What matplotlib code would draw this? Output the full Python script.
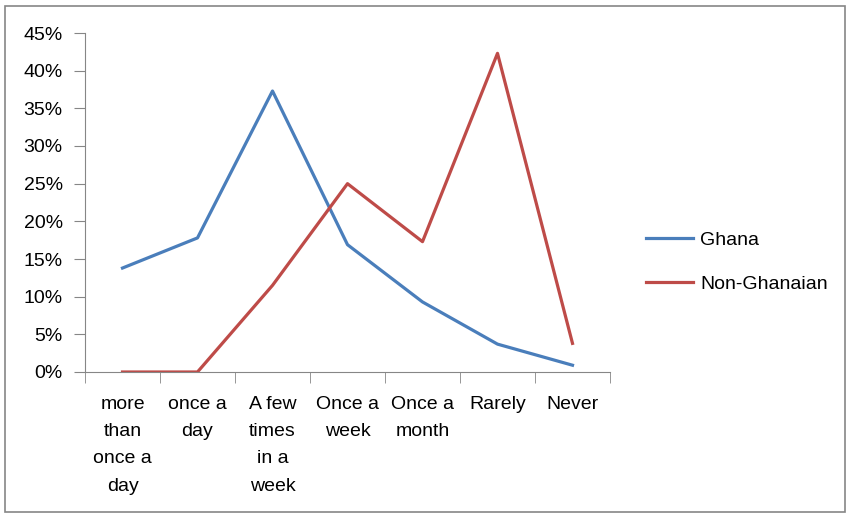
import matplotlib.pyplot as plt
import numpy as np
from matplotlib.ticker import FuncFormatter, FixedLocator

categories = ["more\nthan\nonce a\nday", "once a\nday", "A few\ntimes\nin a\nweek",
              "Once a\nweek", "Once a\nmonth", "Rarely", "Never"]
ghana = [13.8, 17.8, 37.3, 16.9, 9.3, 3.7, 0.9]
non_ghanaian = [0.0, 0.0, 11.5, 25.0, 17.3, 42.3, 3.8]

plt.rcParams['font.family'] = ['Liberation Sans', 'DejaVu Sans']
fig = plt.figure(figsize=(8.51, 5.17), dpi=100)
ax = fig.add_axes([85/851, (517-372)/517, (610-85)/851, (372-33)/517])

x = np.arange(len(categories))
ax.plot(x, ghana, color='#4A7EBB', linewidth=2.3, label='Ghana')
ax.plot(x, non_ghanaian, color='#BE4B48', linewidth=2.3, label='Non-Ghanaian')

ax.set_xlim(-0.5, len(categories) - 0.5)
ax.set_ylim(0, 45)
ax.set_yticks(np.arange(0, 46, 5))
ax.yaxis.set_major_formatter(FuncFormatter(lambda v, p: f"{int(v)}%"))

ax.set_xticks(x)
ax.set_xticklabels(categories, fontsize=14, linespacing=1.8, va='top')
ax.xaxis.set_minor_locator(FixedLocator(np.arange(-0.5, len(categories), 1)))
ax.tick_params(axis='x', which='major', length=0, pad=17)
ax.tick_params(axis='x', which='minor', length=8, color='#868686', direction='out')
ax.tick_params(axis='y', length=8, color='#868686', labelsize=14, pad=8)

for s in ['top', 'right']:
    ax.spines[s].set_visible(False)
for s in ['left', 'bottom']:
    ax.spines[s].set_color('#868686')

ax.legend(loc='center left', bbox_to_anchor=(1.035, 0.325), frameon=False,
          fontsize=14, handlelength=2.4, labelspacing=1.35, handletextpad=0.4)

fig.patches.append(plt.Rectangle((5/851, 5/517), 840/851, 506/517, transform=fig.transFigure,
                                 fill=False, edgecolor='#868686', linewidth=1.2))

plt.savefig('out.png', dpi=100)
